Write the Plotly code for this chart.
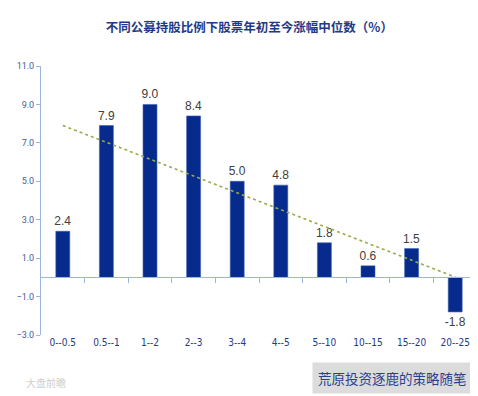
import numpy as np
import plotly.graph_objects as go

categories = ["0--0.5", "0.5--1", "1--2", "2--3", "3--4", "4--5", "5--10", "10--15", "15--20", "20--25"]
values = [2.4, 7.9, 9.0, 8.4, 5.0, 4.8, 1.8, 0.6, 1.5, -1.8]
y_ticks = [-3.0, -1.0, 1.0, 3.0, 5.0, 7.0, 9.0, 11.0]
title_text = "不同公募持股比例下股票年初至今涨幅中位数（%）"
source_text = "荒原投资逐鹿的策略随笔"

y_min, y_max = -3.0, 11.0
idx = np.arange(len(values))
slope, intercept = np.polyfit(idx, values, 1)
trend = slope * idx + intercept

fig = go.Figure()
fig.add_trace(go.Bar(
    x=idx, y=values, width=0.32,
    marker=dict(color="#062B8C", line=dict(color="#3B5FB5", width=0.6)),
    text=[f"{v:.1f}" for v in values], textposition="outside", constraintext="none",
    textfont=dict(family="Liberation Sans, Roboto, sans-serif", size=12, color="#404040"),
    cliponaxis=False, showlegend=False,
))
fig.add_trace(go.Scatter(
    x=idx, y=trend, mode="lines",
    line=dict(color="#9AAA4C", width=1.6, dash="dot"),
    showlegend=False, hoverinfo="skip",
))
# axis at zero with boundary ticks
fig.add_trace(go.Scatter(x=[idx[0]], y=[0], xaxis="x2", mode="markers",
                         marker=dict(opacity=0), showlegend=False, hoverinfo="skip"))

zero_pos = (0 - y_min) / (y_max - y_min)
fig.update_layout(
    width=478, height=396,
    margin=dict(l=30, r=9, t=58, b=69),
    paper_bgcolor="white", plot_bgcolor="white",
    title=dict(text=f"<b>{title_text}</b>", x=0.505, xanchor="center", y=0.95, yanchor="middle",
               font=dict(family="Noto Sans CJK SC, sans-serif", size=12.5, color="#1E3A8A")),
    xaxis=dict(range=[-0.5, len(values) - 0.5], tickvals=list(idx), ticktext=categories,
               showline=False, showgrid=False, zeroline=False, ticks="",
               tickfont=dict(family="DejaVu Sans Condensed, Liberation Sans, sans-serif", size=10, color="#1E3A8A")),
    xaxis2=dict(overlaying="x", anchor="free", position=zero_pos, side="bottom",
                range=[-0.5, len(values) - 0.5], tickvals=list(idx[:-1] + 0.5) + [len(values) - 0.5],
                showticklabels=False, ticks="outside", ticklen=5, tickcolor="#9DB5DC",
                showline=True, linecolor="#9DB5DC", linewidth=1, showgrid=False, zeroline=False),
    yaxis=dict(range=[y_min, y_max], tickvals=y_ticks, tickformat=".1f",
               showline=True, linecolor="#9DB5DC", linewidth=1, ticks="outside", ticklen=4,
               tickcolor="#9DB5DC", showgrid=False, zeroline=False,
               tickfont=dict(family="Liberation Sans Narrow, Roboto, sans-serif", size=9, color="#3F5E9A")),
    annotations=[
        dict(text=source_text, x=0.99, y=-0.10, xref="paper", yref="paper", xanchor="right", yanchor="top",
             showarrow=False, bgcolor="#DCDCDC", borderpad=5,
             font=dict(family="Noto Sans CJK SC, sans-serif", size=13.5, color="#2A3F8F")),
        dict(text="大盘前瞻", x=-0.04, y=-0.14, xref="paper", yref="paper", xanchor="left", yanchor="top",
             showarrow=False, font=dict(family="Noto Sans CJK SC, sans-serif", size=10, color="#D0D0D0")),
    ],
)
fig.write_html("out.html")
